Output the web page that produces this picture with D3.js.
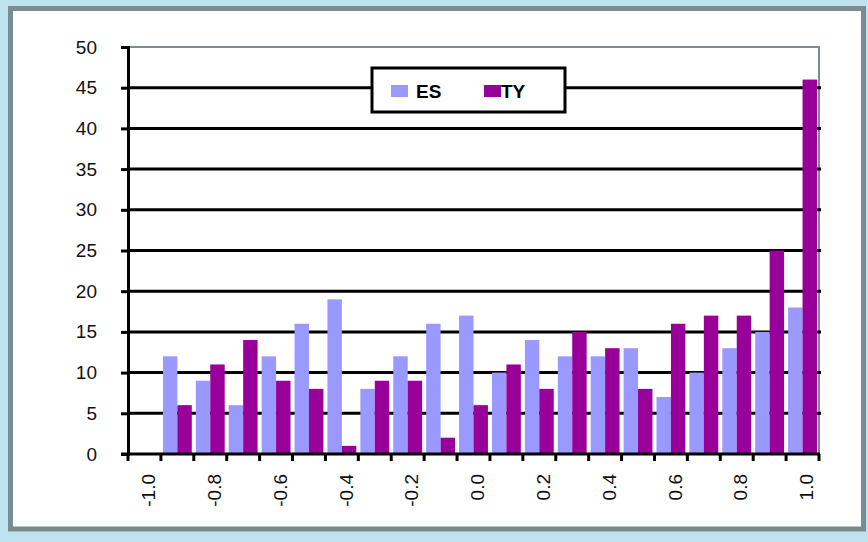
<!DOCTYPE html>
<html>
<head>
<meta charset="utf-8">
<script src="https://cdn.jsdelivr.net/npm/d3@7"></script>
<style>
  body { margin: 0; background: #bfe4ef; }
  text { font-family: Arial, "Liberation Sans", sans-serif; }
</style>
</head>
<body>
<div class="chart"></div>
<script>
const categories = ["-1.0","-0.9","-0.8","-0.7","-0.6","-0.5","-0.4","-0.3","-0.2","-0.1","0.0",
                    "0.1","0.2","0.3","0.4","0.5","0.6","0.7","0.8","0.9","1.0"]
const es_values = [0,12,9,6,12,16,19,8,12,16,17,10,14,12,12,13,7,10,13,15,18]
const ty_values = [0,6,11,14,9,8,1,9,9,2,6,11,8,15,13,8,16,17,17,25,46]
const y_ticks = [0,5,10,15,20,25,30,35,40,45,50]
const series = ["ES", "TY"]
const colors = {ES: "#9999ff", TY: "#990099"}

const width = 868;
const height = 542;
const svg = d3.select(".chart").append("svg").attr("width", width).attr("height", height)

// outer frame
svg.append("rect").attr("x", 10.5).attr("y", 8.5).attr("width", 853).attr("height", 520.5)
    .attr("fill", "#ffffff").attr("stroke", "#7b8b90").attr("stroke-width", 5)

const plot_left = 128, plot_right = 819, plot_top = 47, plot_bottom = 454

const x_scale = d3.scaleBand().domain(categories).range([plot_left, plot_right]).paddingInner(0).paddingOuter(0)
const x_inner = d3.scaleBand().domain(series).range([0, x_scale.bandwidth()]).paddingInner(0).paddingOuter(0.14)
const y_scale = d3.scaleLinear().domain([0, 50]).range([plot_bottom, plot_top])

// plot border (right and top are grey)
svg.append("path")
    .attr("d", `M${plot_left},${plot_top}H${plot_right}V${plot_bottom}`)
    .attr("fill", "none").attr("stroke", "#7b8b90").attr("stroke-width", 2)

// gridlines
svg.append("g").selectAll("line")
    .data(y_ticks.filter(d => d > 0 && d < 50))
    .join("line")
    .attr("x1", plot_left).attr("x2", plot_right + 2)
    .attr("y1", d => y_scale(d)).attr("y2", d => y_scale(d))
    .attr("stroke", "#000").attr("stroke-width", 3)

// bars
const rows = categories.map((c, i) => ({cat: c, ES: es_values[i], TY: ty_values[i]}))
const groups = svg.append("g").selectAll("g")
    .data(rows)
    .join("g")
    .attr("transform", d => `translate(${x_scale(d.cat)},0)`)
groups.selectAll("rect")
    .data(d => series.map(s => ({key: s, value: d[s]})))
    .join("rect")
    .attr("x", d => x_inner(d.key))
    .attr("width", x_inner.bandwidth())
    .attr("y", d => y_scale(d.value))
    .attr("height", d => plot_bottom - y_scale(d.value))
    .attr("fill", d => colors[d.key])

// y axis
const y_axis = svg.append("g").attr("transform", `translate(${plot_left},0)`)
    .call(d3.axisLeft(y_scale).tickValues(y_ticks).tickSize(7).tickPadding(24))
y_axis.select(".domain").attr("stroke", "#000").attr("stroke-width", 3)
y_axis.selectAll(".tick line").attr("stroke", "#000").attr("stroke-width", 3)
y_axis.selectAll("text").attr("font-size", 19).attr("fill", "#111").attr("font-family", "Arial, 'Liberation Sans', sans-serif")

// x axis
svg.append("line").attr("x1", plot_left - 7).attr("x2", plot_right + 1).attr("y1", plot_bottom).attr("y2", plot_bottom)
    .attr("stroke", "#000").attr("stroke-width", 3)
svg.append("g").selectAll("line")
    .data(categories)
    .join("line")
    .attr("x1", d => x_scale(d) + x_scale.bandwidth())
    .attr("x2", d => x_scale(d) + x_scale.bandwidth())
    .attr("y1", plot_bottom).attr("y2", plot_bottom + 7)
    .attr("stroke", "#000").attr("stroke-width", 3)
svg.append("line").attr("x1", plot_left).attr("x2", plot_left).attr("y1", plot_bottom).attr("y2", plot_bottom + 7)
    .attr("stroke", "#000").attr("stroke-width", 3)

svg.append("g").selectAll("text")
    .data(categories.filter((d, i) => i % 2 === 0))
    .join("text")
    .attr("transform", d => `translate(${x_scale(d) + x_scale.bandwidth() / 2 + 4},474) rotate(-90)`)
    .attr("text-anchor", "end")
    .attr("dy", "0.35em")
    .attr("font-size", 19)
    .attr("fill", "#111")
    .text(d => d)

// legend
const legend = svg.append("g").attr("transform", "translate(372,68)")
legend.append("rect").attr("width", 193).attr("height", 44)
    .attr("fill", "#fff").attr("stroke", "#000").attr("stroke-width", 3)
const legend_x = {ES: 19, TY: 112}
series.forEach(s => {
    legend.append("rect").attr("x", legend_x[s]).attr("y", 17).attr("width", 17).attr("height", 12)
        .attr("fill", colors[s])
    legend.append("text").attr("x", legend_x[s] + (s === "ES" ? 25 : 17)).attr("y", 30)
        .attr("font-size", 19).attr("font-weight", "bold").attr("fill", "#000")
        .text(s)
})
</script>
</body>
</html>
